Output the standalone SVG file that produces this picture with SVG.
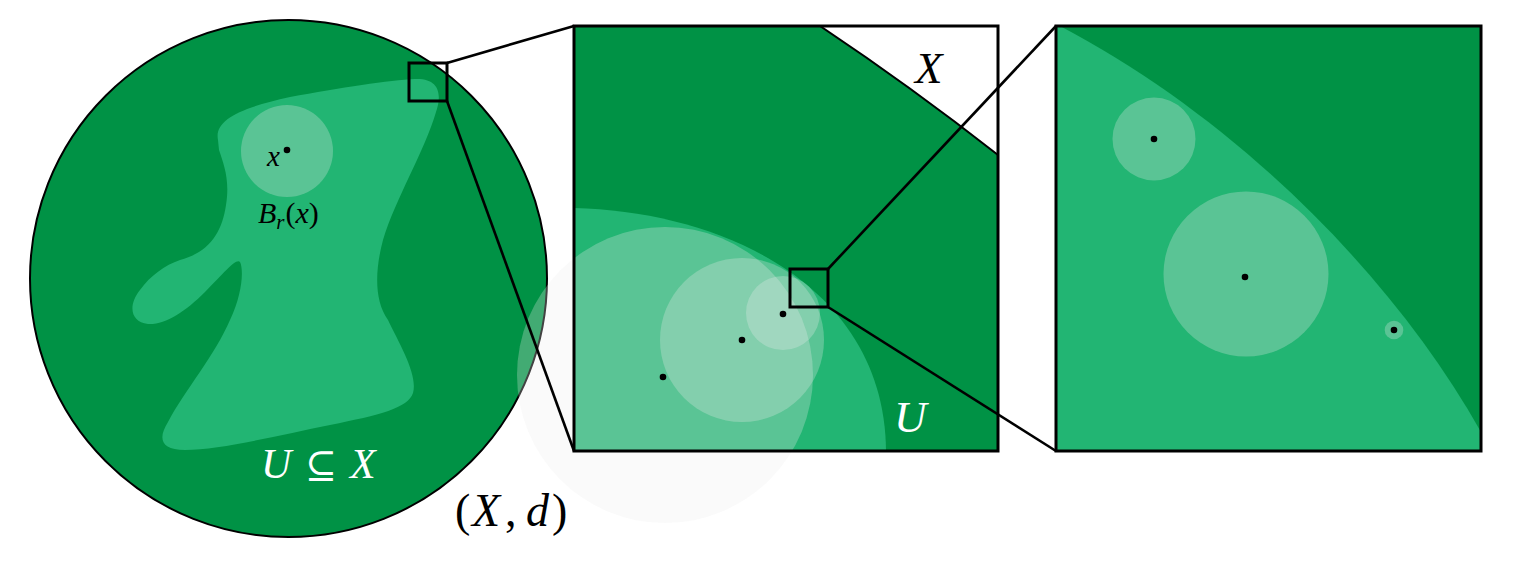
<svg xmlns="http://www.w3.org/2000/svg" width="1524" height="566" viewBox="0 0 1524 566">
<style>
.dark{fill:#009245}
.mid{fill:#22b573}
.ball{fill:#ededed;fill-opacity:0.28}
.dot{fill:#000}
.frame{fill:none;stroke:#000;stroke-width:3}
.conn{fill:none;stroke:#000;stroke-width:2.6}
.m{font-family:"Liberation Serif","DejaVu Serif",serif;font-style:italic}
.up{font-style:normal}
.sym{font-family:"DejaVu Serif","Liberation Serif",serif;font-style:normal}
</style>
<defs>
<clipPath id="clipMid"><rect x="574" y="26" width="424" height="425"/></clipPath>
<clipPath id="clipRight"><rect x="1056" y="26" width="425" height="425"/></clipPath>
</defs>

<g id="space">
<circle cx="288.5" cy="278.5" r="258.5" class="dark" stroke="#000" stroke-width="2"/>
<path class="mid" d="M218,140 C214,120 240,108 290,97 C340,88 390,80 415,79 C440,78 442,95 436,112 C425,150 395,200 383,240 C375,270 374,300 388,320 C400,345 418,375 413,393 C408,408 380,415 330,425 C280,435 220,450 185,450 C160,450 158,438 168,422 C185,390 215,355 230,320 C242,295 244,270 240,262 C236,258 225,272 205,292 C185,312 165,325 148,324 C130,322 128,305 140,290 C150,276 165,265 180,260 C210,252 222,232 226,205 C230,180 224,165 219,150 Z"/>
<circle cx="287" cy="151" r="46" class="ball"/>
<circle cx="287" cy="150" r="3.3" class="dot"/>
<text class="m" x="267" y="166" font-size="29">x</text>
<text class="m" x="258" y="223" font-size="30">B<tspan font-size="21" dy="6">r</tspan><tspan class="up" dy="-6" dx="1">(</tspan>x<tspan class="up">)</tspan></text>
<text class="m" y="478" font-size="42" fill="#fff"><tspan x="261">U</tspan><tspan class="sym" x="305" font-size="38">⊆</tspan><tspan x="350">X</tspan></text>
<text class="m" y="526" font-size="46"><tspan class="up" x="455">(</tspan><tspan x="472">X</tspan><tspan class="up" x="505">,</tspan><tspan x="526">d</tspan><tspan class="up" x="552">)</tspan></text>
</g>

<g id="zoom1" clip-path="url(#clipMid)">
<rect x="574" y="26" width="424" height="425" class="dark"/>
<path d="M820,26 A2885,2885 0 0 1 998,155 L998,26 Z" fill="#fff" stroke="#000" stroke-width="2"/>
<path class="mid" d="M574,208 C730,212 885,290 886,451 L574,451 Z"/>
<circle cx="742" cy="340" r="82" class="ball"/>
<circle cx="783" cy="313" r="37" class="ball"/>
<text class="m" x="915" y="83" font-size="45">X</text>
<text class="m" x="894" y="432" font-size="45" fill="#fff">U</text>
</g>

<g id="bigball">
<circle cx="665" cy="375" r="148" class="ball"/>
</g>

<g id="zoom1-points">
<circle cx="663" cy="377" r="3.3" class="dot"/>
<circle cx="742" cy="340" r="3.3" class="dot"/>
<circle cx="783" cy="314" r="3.3" class="dot"/>
</g>

<g id="zoom2" clip-path="url(#clipRight)">
<rect x="1056" y="26" width="425" height="425" class="dark"/>
<path class="mid" d="M1060,26 C1230,115 1390,270 1481,432 L1481,451 L1056,451 L1056,26 Z"/>
<circle cx="1154" cy="139" r="41.5" class="ball"/>
<circle cx="1246" cy="274" r="82.5" class="ball"/>
<circle cx="1394" cy="330" r="9.3" class="ball"/>
<circle cx="1154" cy="139" r="3.3" class="dot"/>
<circle cx="1245" cy="277" r="3.3" class="dot"/>
<circle cx="1394" cy="330" r="3.3" class="dot"/>
</g>

<g id="connectors">
<line x1="447" y1="63" x2="574" y2="26" class="conn"/>
<line x1="447" y1="101" x2="574" y2="451" class="conn"/>
<line x1="828" y1="269" x2="1056" y2="26" class="conn"/>
<line x1="828" y1="307" x2="1056" y2="451" class="conn"/>
</g>

<g id="frames">
<rect x="409" y="63" width="38" height="38" class="frame"/>
<rect x="790" y="269" width="38" height="38" class="frame"/>
<rect x="574" y="26" width="424" height="425" class="frame"/>
<rect x="1056" y="26" width="425" height="425" class="frame"/>
</g>
</svg>
